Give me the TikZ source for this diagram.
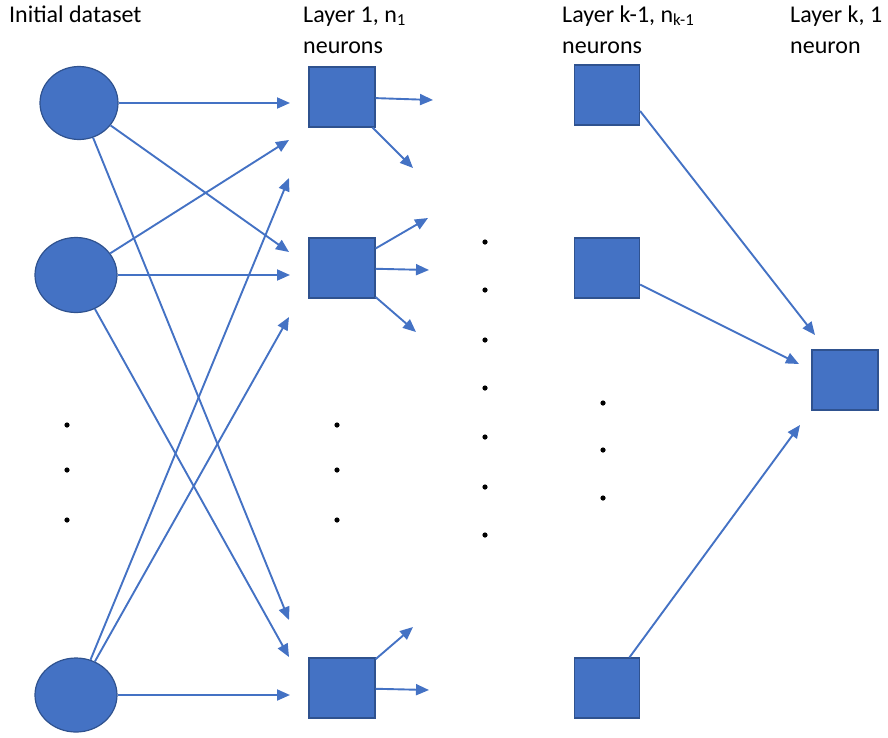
\documentclass[tikz,border=0pt]{standalone}
\usepackage{fontspec}
\setmainfont{Carlito}
\usetikzlibrary{arrows.meta,shapes.geometric}

\definecolor{nblue}{HTML}{4472C4}
\definecolor{nedge}{HTML}{2F528F}

\tikzset{
  inp/.style={ellipse, fill=nblue, draw=nedge, line width=1.2pt, inner sep=0pt},
  neuron/.style={rectangle, fill=nblue, draw=nedge, line width=1.2pt, inner sep=0pt,
                 minimum width=65pt, minimum height=60pt},
  arr/.style={draw=nblue, line width=1.9pt, -{Triangle[length=13pt,width=11pt]}},
  lbl/.style={anchor=base west, align=left, inner sep=0pt,
              font=\fontsize{24}{31}\selectfont}
}

\begin{document}
\begin{tikzpicture}[x=1pt, y=-1pt]
  \useasboundingbox (0,0) rectangle (888,737);

  % Labels (base = last line)
  \node[lbl] (tin) at (9,22) {Initial dataset};
  \node[lbl] (tl1) at (303,53) {Layer 1, n\textsubscript{1}\\neurons};
  \node[lbl] (tlk1) at (562,53) {Layer k-1, n\textsubscript{k-1}\\neurons};
  \node[lbl] (tlk) at (790,53) {Layer k, 1\\neuron};

  % Input data points
  \node[inp, minimum width=78pt, minimum height=73pt] (c1) at (79,103) {};
  \node[inp, minimum width=82pt, minimum height=75pt] (c2) at (76,275) {};
  \node[inp, minimum width=82pt, minimum height=74pt] (c3) at (76,695) {};

  % Layer 1
  \node[neuron, minimum width=66pt] (s1) at (342,97) {};
  \node[neuron, minimum width=66pt] (s2) at (342,268) {};
  \node[neuron, minimum width=66pt] (s3) at (342,688) {};

  % Layer k-1 and output
  \node[neuron] (k1) at (607,95) {};
  \node[neuron] (k2) at (607,268) {};
  \node[neuron] (k3) at (607,688) {};
  \node[neuron, minimum width=66pt] (kout) at (845,380) {};

  % Free arrow ends in front of layer 1
  \coordinate (c1a) at (290,103);
  \coordinate (c1b) at (289,252);
  \coordinate (c1c) at (289,620);
  \coordinate (c2a) at (289,140);
  \coordinate (c2b) at (290,275);
  \coordinate (c2c) at (289,657);
  \coordinate (c3a) at (289,178);
  \coordinate (c3b) at (289,317);
  \coordinate (c3c) at (290,695);

  % Free arrow ends after layer 1
  \coordinate (s1a) at (433,100);
  \coordinate (s1b) at (413,168);
  \coordinate (s2a) at (428,218);
  \coordinate (s2b) at (429,270);
  \coordinate (s2c) at (416,332);
  \coordinate (s3a) at (413,627);
  \coordinate (s3b) at (429,690);

  % Free arrow ends before the output neuron
  \coordinate (k1a) at (815,335);
  \coordinate (k2a) at (799,364);
  \coordinate (k3a) at (800,425);

  % Input -> layer 1
  \foreach \c in {c1,c2,c3}
    \foreach \t in {a,b,c}
      \draw[arr] (\c) -- (\c\t);

  % Layer 1 -> onwards
  \draw[arr] (s1) -- (s1a);
  \draw[arr] (s1) -- (s1b);
  \draw[arr] (s2) -- (s2a);
  \draw[arr] (s2) -- (s2b);
  \draw[arr] (s2) -- (s2c);
  \draw[arr] (s3) -- (s3a);
  \draw[arr] (s3) -- (s3b);

  % Layer k-1 -> output
  \draw[arr] ([yshift=-16pt]k1.east) -- (k1a);
  \draw[arr] (k2) -- (k2a);
  \draw[arr] (k3) -- (k3a);

  % Dots
  \foreach \y in {425,470,520} {
    \fill (67,\y) circle (2.6);
    \fill (337,\y) circle (2.6);
  }
  \foreach \y in {242,290,340,388,437,487,535}
    \fill (485,\y) circle (2.6);
  \foreach \y in {403,450,498}
    \fill (603,\y) circle (2.6);

\end{tikzpicture}
\end{document}
